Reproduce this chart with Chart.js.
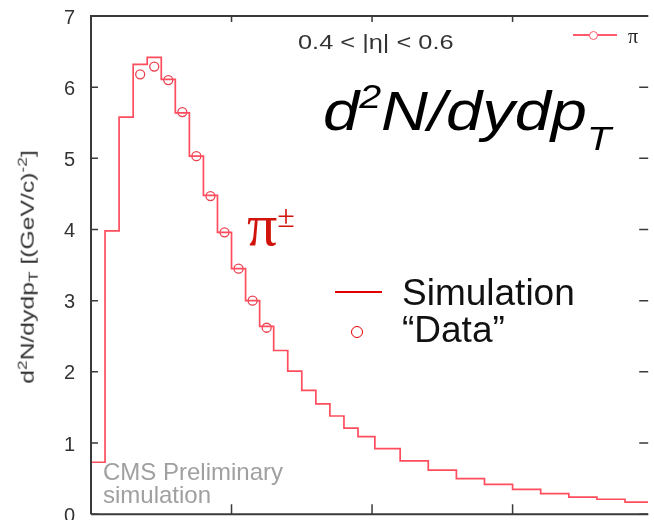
<!DOCTYPE html>
<html>
<head>
<meta charset="utf-8">
<script src="https://cdn.jsdelivr.net/npm/chart.js@4.4.1/dist/chart.umd.min.js"></script>
<style>
  html, body { margin: 0; padding: 0; background: #fff; }
  #wrap { position: relative; width: 654px; height: 520px; overflow: hidden; font-family: 'Liberation Sans', Arial, sans-serif; }
  #wrap canvas { position: absolute; left: 0; top: 0; }
  .txt { position: absolute; white-space: nowrap; line-height: 1; }
  .up, .dn { position: relative; }
</style>
</head>
<body>
<div id="wrap">
  <canvas id="chart" width="654" height="520"></canvas>

  <div class="txt" id="ytitle" style="left:28px; top:267px; font-size:18.6px; color:#333;
       transform: translate(-50%, -50%) rotate(-90deg) scaleX(1.33);">
    d<span class="up" style="font-size:13px; top:-7px;">2</span>N/dydp<span class="dn" style="font-size:13px; top:4px;">T</span>
    [(GeV/c)<span class="up" style="font-size:13px; top:-7px;">-2</span>]
  </div>

  <div class="txt" style="left:298px; top:32.5px; font-size:19.5px; color:#333; transform: scaleX(1.3); transform-origin: left center;">0.4 &lt; |η| &lt; 0.6</div>

  <div style="position:absolute; left:573px; top:34px; width:44px; height:2px; background:#ff5a6e;"></div>
  <div style="position:absolute; left:588.5px; top:30.5px; width:7px; height:7px; border:1.5px solid #ff5a6e; border-radius:50%; background:#fff;"></div>
  <div class="txt" style="left:628px; top:26px; font-size:20px; font-family:'Liberation Serif', serif; color:#222;">π</div>

  <div class="txt" style="left:323px; top:82.6px; font-size:56px; font-style:italic; color:#000; transform: scaleX(1.16); transform-origin: left center;">d<span class="up" style="font-size:34px; top:-22px;">2</span>N/dydp<span class="dn" style="font-size:34px; top:20px;">T</span></div>

  <div class="txt" style="left:247px; top:194.8px; font-size:60px; font-family:'Liberation Serif', serif; color:#d0140c;">π<span class="up" style="font-size:32px; top:-18px;">±</span></div>

  <div style="position:absolute; left:335px; top:291px; width:47px; height:2px; background:#e00000;"></div>
  <div style="position:absolute; left:350.5px; top:325.5px; width:10px; height:10px; border:1.5px solid #e00000; border-radius:50%;"></div>
  <div class="txt" style="left:402px; top:273.7px; font-size:37px; color:#111;">Simulation</div>
  <div class="txt" style="left:402px; top:310.7px; font-size:37px; color:#111;">“Data”</div>

  <div class="txt" style="left:103px; top:460px; font-size:24px; line-height:23px; color:#a0a0a0;">CMS Preliminary<br>simulation</div>
</div>

<script>
// bin edges in pT (GeV/c) and the simulated histogram content per bin
const binEdges = [0, 0.1, 0.2, 0.3, 0.4, 0.5, 0.6, 0.7, 0.8, 0.9, 1.0,
    1.1, 1.2, 1.3, 1.4, 1.5, 1.6, 1.7, 1.8, 1.9, 2.02,
    2.2, 2.4, 2.6, 2.8, 3.0, 3.2, 3.4, 3.6, 3.8, 3.965];
const simValues = [0.73, 3.98, 5.58, 6.32, 6.42, 6.11, 5.64, 5.03, 4.48, 3.96,
    3.45, 3.00, 2.64, 2.30, 2.01, 1.74, 1.55, 1.38, 1.21, 1.09,
    0.92, 0.75, 0.62, 0.50, 0.42, 0.35, 0.29, 0.24, 0.21, 0.17];

// "Data" points (bin centres)
const dataPt = [0.35, 0.45, 0.55, 0.65, 0.75, 0.85, 0.95, 1.05, 1.15, 1.25];
const dataValues = [6.18, 6.29, 6.10, 5.65, 5.03, 4.47, 3.96, 3.45, 3.00, 2.62];

const xTicks = [1, 2, 3];
const yTicks = [0, 1, 2, 3, 4, 5, 6, 7];

const simPoints = binEdges.map((e, i) => ({x: e, y: simValues[Math.min(i, simValues.length - 1)]}));
const dataPoints = dataPt.map((x, i) => ({x: x, y: dataValues[i]}));

// frame with inward tick marks, gnuplot style
const frame = {
    id: 'frame',
    afterDraw(chart) {
        const {ctx, chartArea: a, scales} = chart;
        ctx.save();
        ctx.strokeStyle = '#3a3a3a';
        ctx.lineWidth = 2;
        ctx.beginPath();
        ctx.moveTo(a.left, a.bottom);
        ctx.lineTo(a.left, a.top);
        ctx.lineTo(a.right, a.top);
        ctx.moveTo(a.left, a.bottom);
        ctx.lineTo(a.right, a.bottom);
        ctx.stroke();
        ctx.lineWidth = 1.5;
        ctx.beginPath();
        for (const v of yTicks) {
            const y = scales.y.getPixelForValue(v);
            ctx.moveTo(a.left, y);
            ctx.lineTo(a.left + 7, y);
            ctx.moveTo(a.right, y);
            ctx.lineTo(a.right - 9, y);
        }
        for (const v of xTicks) {
            const x = scales.x.getPixelForValue(v);
            ctx.moveTo(x, a.bottom);
            ctx.lineTo(x, a.bottom - 10);
            ctx.moveTo(x, a.top);
            ctx.lineTo(x, a.top + 6);
        }
        ctx.stroke();
        ctx.restore();
    }
};

new Chart(document.getElementById('chart'), {
    type: 'line',
    data: {
        datasets: [
            {
                label: 'Simulation',
                data: simPoints,
                stepped: 'before',
                borderColor: '#ff4d5e',
                borderWidth: 1.7,
                pointRadius: 0,
                fill: false,
            },
            {
                label: 'Data',
                data: dataPoints,
                showLine: false,
                pointStyle: 'circle',
                pointRadius: 4.5,
                pointBorderWidth: 1.3,
                pointBorderColor: '#e8414f',
                pointBackgroundColor: 'rgba(0,0,0,0)',
            },
        ],
    },
    options: {
        responsive: false,
        devicePixelRatio: 1,
        animation: false,
        layout: {padding: {left: 0, top: 16, right: 0, bottom: 2}},
        plugins: {legend: {display: false}, tooltip: {enabled: false}},
        scales: {
            x: {
                type: 'linear',
                display: false,
                min: 0,
                max: 3.965,
            },
            y: {
                min: 0,
                max: 7,
                grid: {display: false, drawTicks: false},
                border: {display: false},
                ticks: {
                    stepSize: 1,
                    padding: 16,
                    labelOffset: 2,
                    color: '#333',
                    font: {family: 'Liberation Sans', size: 20},
                },
                afterFit: (s) => {
                    s.width = 91;
                    s.paddingTop = 0;
                    s.paddingBottom = 0;
                },
            },
        },
    },
    plugins: [frame],
});
</script>
</body>
</html>
